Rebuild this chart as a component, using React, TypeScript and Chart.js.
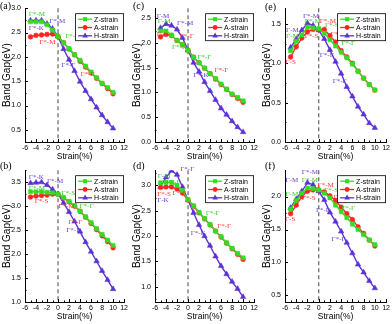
import React, { useEffect, useRef } from "react";
import { Chart, registerables } from "chart.js";
Chart.register(...registerables);

const strains = [-5, -4, -3, -2, -1, 0, 1, 2, 3, 4, 5, 6, 7, 8, 9, 10];
const xTicks = [-6, -4, -2, 0, 2, 4, 6, 8, 10, 12];
const seriesNames = ["Z-strain", "A-strain", "H-strain"];

// (a)
const aZ = [2.72, 2.72, 2.72, 2.66, 2.55, 2.42, 2.29, 2.17, 2.05, 1.93, 1.81, 1.69, 1.57, 1.46, 1.37, 1.27];
const aA = [2.41, 2.44, 2.45, 2.46, 2.47, 2.42, 2.29, 2.16, 2.04, 1.91, 1.79, 1.67, 1.56, 1.45, 1.35, 1.24];
const aH = [2.75, 2.75, 2.75, 2.68, 2.58, 2.42, 2.16, 1.94, 1.71, 1.49, 1.30, 1.13, 0.96, 0.80, 0.66, 0.53];
const aYTicks = [0.5, 1.0, 1.5, 2.0, 2.5, 3.0];
// (b)
const bZ = [3.30, 3.30, 3.30, 3.29, 3.28, 3.25, 3.18, 3.10, 3.01, 2.90, 2.78, 2.66, 2.53, 2.41, 2.29, 2.18];
const bA = [3.19, 3.21, 3.22, 3.23, 3.25, 3.25, 3.17, 3.09, 3.00, 2.89, 2.77, 2.64, 2.51, 2.38, 2.26, 2.13];
const bH = [3.48, 3.49, 3.50, 3.44, 3.35, 3.25, 3.07, 2.88, 2.68, 2.47, 2.25, 2.05, 1.85, 1.65, 1.46, 1.27];
const bYTicks = [1.0, 1.5, 2.0, 2.5, 3.0, 3.5];
// (c)
const cZ = [2.24, 2.24, 2.16, 2.05, 1.97, 1.85, 1.71, 1.60, 1.49, 1.38, 1.28, 1.17, 1.07, 0.97, 0.90, 0.83];
const cA = [2.12, 2.17, 2.15, 2.05, 1.96, 1.85, 1.71, 1.60, 1.49, 1.38, 1.27, 1.16, 1.06, 0.96, 0.88, 0.80];
const cH = [2.30, 2.38, 2.35, 2.27, 2.10, 1.85, 1.60, 1.42, 1.21, 1.03, 0.85, 0.68, 0.55, 0.42, 0.30, 0.20];
const cYTicks = [0.0, 0.5, 1.0, 1.5, 2.0, 2.5];
// (d)
const dZ = [3.05, 3.06, 3.06, 3.00, 2.90, 2.72, 2.60, 2.47, 2.35, 2.23, 2.10, 1.99, 1.87, 1.76, 1.66, 1.57];
const dA = [2.96, 2.97, 2.97, 2.93, 2.85, 2.71, 2.59, 2.46, 2.34, 2.22, 2.10, 1.98, 1.86, 1.75, 1.64, 1.54];
const dH = [2.97, 3.16, 3.29, 3.21, 2.97, 2.71, 2.46, 2.22, 2.00, 1.81, 1.60, 1.41, 1.25, 1.10, 0.96, 0.80];
const dYTicks = [1.0, 1.5, 2.0, 2.5, 3.0];
// (e)
const eZ = [1.16, 1.28, 1.36, 1.46, 1.45, 1.44, 1.38, 1.30, 1.22, 1.14, 1.07, 0.99, 0.90, 0.81, 0.73, 0.66];
const eA = [1.08, 1.21, 1.32, 1.40, 1.43, 1.43, 1.43, 1.35, 1.27, 1.16, 1.08, 1.00, 0.90, 0.81, 0.73, 0.66];
const eH = [1.20, 1.31, 1.42, 1.51, 1.48, 1.42, 1.31, 1.17, 1.02, 0.87, 0.70, 0.58, 0.45, 0.35, 0.24, 0.18];
const eYTicks = [0.0, 0.5, 1.0, 1.5];
// (f)
const fZ = [1.81, 1.94, 2.05, 2.13, 2.12, 2.10, 2.05, 1.98, 1.87, 1.77, 1.68, 1.58, 1.50, 1.42, 1.34, 1.27];
const fA = [1.74, 1.87, 2.00, 2.08, 2.10, 2.10, 2.07, 2.01, 1.94, 1.84, 1.74, 1.65, 1.54, 1.44, 1.34, 1.25];
const fH = [1.83, 1.96, 2.08, 2.21, 2.18, 2.08, 1.95, 1.76, 1.62, 1.47, 1.30, 1.14, 0.97, 0.85, 0.72, 0.61];
const fYTicks = [0.5, 1.0, 1.5, 2.0];

// band-edge annotations: [text, strain, gap, series]
const aAnn = [
  ["Γ*-M", -5.3, 2.88, "Z"], ["Γ*-K", -5.3, 2.59, "H"], ["Γ*-M", -1.6, 2.74, "H"],
  ["Γ*-M", -3.4, 2.31, "A"], ["Γ*-Γ", 1.3, 2.43, "Z"], ["Γ*-Γ", 0.6, 1.82, "H"], ["Γ*-Γ", 4.1, 1.65, "A"],
];
const bAnn = [
  ["Γ*-K", -5.3, 3.61, "H"], ["Γ*-M", -2.0, 3.53, "H"], ["Γ*-M", -5.3, 3.37, "Z"],
  ["Γ*-S", -4.25, 3.11, "A"], ["Γ*-S", 0.6, 3.27, "Z"], ["Γ*-M", 0.1, 3.0, "A"],
  ["Γ*-Γ", 3.9, 3.0, "Z"], ["Γ*-Γ", 1.9, 2.67, "A"], ["Γ*-Γ", 1.5, 2.5, "H"],
];
const cAnn = [
  ["Γ-M", -5.7, 2.54, "H"], ["Γ-M", -5.5, 2.44, "Z"], ["Γ*-M", -2.0, 2.40, "H"],
  ["Γ-S", -5.7, 2.18, "A"], ["Γ*-Γ", -1.5, 2.14, "A"], ["Γ*-Γ", -2.9, 1.92, "Z"],
  ["Γ*-Γ", 1.7, 1.71, "Z"], ["Γ*-Γ", 4.8, 1.44, "A"], ["Γ*-K", 1.0, 1.35, "H"],
];
const dAnn = [
  ["Γ-M", -5.5, 3.19, "Z"], ["Γ*-Γ", -3.9, 3.06, "Z"], ["Γ*-Γ", -1.4, 3.32, "H"],
  ["Γ*-S", -5.6, 2.83, "A"], ["Γ*-S", -2.8, 2.85, "A"], ["Γ-K", -5.6, 2.70, "H"],
  ["Γ*-Γ", 3.2, 2.45, "Z"], ["Γ*-Γ", 5.3, 2.19, "A"], ["Γ*-Γ", 0.5, 2.05, "H"],
];
const eAnn = [
  ["Γ*-M", -2.8, 1.60, "H"], ["Γ-M", -5.8, 1.42, "H"], ["Γ*-M", -2.5, 1.53, "Z"],
  ["Γ*-M", 0.2, 1.54, "A"], ["Γ*-S", 1.1, 1.48, "Z"], ["Γ-M", -5.8, 1.34, "Z"],
  ["Γ*-S", -2.5, 1.34, "A"], ["Γ*-Γ", 2.1, 1.37, "A"], ["Γ*-Γ", 4.0, 1.26, "Z"],
  ["Γ-S", -5.9, 1.01, "A"], ["Γ*-Γ", 0.2, 1.10, "H"], ["Γ*-Γ", 2.5, 0.77, "H"],
];
const fAnn = [
  ["Γ*-M", -3.0, 2.37, "H"], ["Γ-M", -5.9, 2.25, "H"], ["Γ*-M", -3.0, 2.25, "Z"],
  ["Γ*-M", -0.2, 2.18, "A"], ["Γ*-S", 1.0, 2.09, "Z"], ["Γ-M", -5.9, 2.03, "Z"],
  ["Γ*-S", -3.0, 1.97, "A"], ["Γ*-Γ", 2.6, 1.99, "A"], ["Γ*-Γ", 4.0, 1.83, "Z"],
  ["Γ*-Γ", -0.5, 1.79, "H"], ["Γ-S", -6.0, 1.65, "A"], ["Γ*-Γ", 2.3, 1.35, "H"],
];

const COLORS: any = { Z: "#33dd22", A: "#ff2424", H: "#5a32d6" };
const TEXT_COLORS: any = { Z: "#33cc22", A: "#ff3030", H: "#6a3ad8" };
const STYLES: any = { Z: "rect", A: "circle", H: "triangle" };
const RADII: any = { Z: 2.9, A: 2.4, H: 3.2 };
const SANS = "'Liberation Sans', Arial, sans-serif";
const SERIF = "'Liberation Serif', 'Times New Roman', serif";

const panels = [
  { label: "(a)", Z: aZ, A: aA, H: aH, yMin: 0.25, yMax: 3.0, yTicks: aYTicks, ann: aAnn,
    left: 0, top: 0, w: 130, h: 162, padTop: 5, padRight: 2, xh: 20, xtPad: 0, lx: 0, ly: 6 },
  { label: "(b)", Z: bZ, A: bA, H: bH, yMin: 1.0, yMax: 3.75, yTicks: bYTicks, ann: bAnn,
    left: 0, top: 162, w: 130, h: 162, padTop: 4, padRight: 2, xh: 22, xtPad: 2, lx: 0, ly: 4 },
  { label: "(c)", Z: cZ, A: cA, H: cH, yMin: 0.0, yMax: 2.7, yTicks: cYTicks, ann: cAnn,
    left: 130, top: 0, w: 130, h: 162, padTop: 5, padRight: 2, xh: 20, xtPad: 0, lx: 3, ly: 6 },
  { label: "(d)", Z: dZ, A: dA, H: dH, yMin: 0.7, yMax: 3.3, yTicks: dYTicks, ann: dAnn,
    left: 130, top: 162, w: 130, h: 162, padTop: 4, padRight: 2, xh: 22, xtPad: 2, lx: 3, ly: 4 },
  { label: "(e)", Z: eZ, A: eA, H: eH, yMin: 0.0, yMax: 1.7, yTicks: eYTicks, ann: eAnn,
    left: 260, top: 0, w: 132, h: 162, padTop: 5, padRight: 5, xh: 20, xtPad: 0, lx: 5, ly: 7 },
  { label: "(f)", Z: fZ, A: fA, H: fH, yMin: 0.4, yMax: 2.4, yTicks: fYTicks, ann: fAnn,
    left: 260, top: 162, w: 132, h: 162, padTop: 4, padRight: 5, xh: 22, xtPad: 2, lx: 5, ly: 4 },
];

function drawMarker(ctx: CanvasRenderingContext2D, style: string, x: number, y: number, r: number, color: string) {
  ctx.save();
  ctx.fillStyle = color;
  ctx.beginPath();
  if (style === "rect") {
    const s = Math.SQRT1_2 * r;
    ctx.rect(x - s, y - s, 2 * s, 2 * s);
  } else if (style === "circle") {
    ctx.arc(x, y, r, 0, Math.PI * 2);
  } else {
    ctx.moveTo(x, y - r);
    ctx.lineTo(x + r * 0.866, y + r * 0.5);
    ctx.lineTo(x - r * 0.866, y + r * 0.5);
    ctx.closePath();
  }
  ctx.fill();
  ctx.restore();
}

function makeDecor(p: any) {
  return {
    id: "decor",
    beforeDatasetsDraw(chart: any) {
      const { ctx, chartArea, scales } = chart;
      const x0 = scales.x.getPixelForValue(0);
      ctx.save();
      ctx.strokeStyle = "#707070";
      ctx.lineWidth = 1.3;
      ctx.setLineDash([4, 3]);
      ctx.beginPath();
      ctx.moveTo(x0, chartArea.top);
      ctx.lineTo(x0, chartArea.bottom);
      ctx.stroke();
      ctx.restore();
    },
    afterDraw(chart: any) {
      const { ctx, chartArea, scales } = chart;
      const xs = scales.x, ys = scales.y;
      ctx.save();
      // inward ticks
      ctx.strokeStyle = "#000";
      ctx.lineWidth = 1;
      ctx.beginPath();
      for (let v = -6; v <= 12; v += 1) {
        const px = Math.round(xs.getPixelForValue(v)) + 0.5;
        const len = v % 2 === 0 ? 3 : 1.5;
        ctx.moveTo(px, chartArea.bottom);
        ctx.lineTo(px, chartArea.bottom - len);
      }
      const step = (p.yTicks[1] - p.yTicks[0]) / 2;
      const start = Math.ceil(p.yMin / step - 1e-6) * step;
      for (let v = start; v <= p.yMax + 1e-6; v += step) {
        const py = Math.round(ys.getPixelForValue(v)) + 0.5;
        const major = p.yTicks.some((t: number) => Math.abs(t - v) < 1e-6);
        ctx.moveTo(chartArea.left, py);
        ctx.lineTo(chartArea.left + (major ? 3 : 1.5), py);
      }
      ctx.stroke();

      // annotations
      ctx.font = `7px ${SERIF}`;
      ctx.textAlign = "left";
      ctx.textBaseline = "middle";
      for (const [t, x, y, k] of p.ann) {
        ctx.fillStyle = TEXT_COLORS[k];
        ctx.fillText(t, xs.getPixelForValue(x), ys.getPixelForValue(y));
      }

      // legend box
      const bw = 48, bh = 27;
      const bx = chartArea.right - 1 - bw;
      const by = chartArea.top + 5;
      ctx.fillStyle = "#fff";
      ctx.fillRect(bx, by, bw, bh);
      ctx.strokeStyle = "#000";
      ctx.lineWidth = 0.8;
      ctx.strokeRect(bx + 0.5, by + 0.5, bw, bh);
      ctx.font = `7px ${SANS}`;
      ctx.textBaseline = "middle";
      ["Z", "A", "H"].forEach((k, i) => {
        const ry = by + 6 + i * 8.3;
        ctx.strokeStyle = COLORS[k];
        ctx.lineWidth = 1.3;
        ctx.beginPath();
        ctx.moveTo(bx + 3, ry);
        ctx.lineTo(bx + 17, ry);
        ctx.stroke();
        drawMarker(ctx, STYLES[k], bx + 10, ry, RADII[k], COLORS[k]);
        ctx.fillStyle = "#000";
        ctx.fillText(seriesNames[i], bx + 19, ry + 0.5);
      });

      // panel label
      ctx.font = `10px ${SERIF}`;
      ctx.fillStyle = "#000";
      ctx.textBaseline = "middle";
      ctx.fillText(p.label, p.lx, p.ly);
      ctx.restore();
    },
  };
}

function Panel({ p }: { p: any }) {
  const ref = useRef<HTMLCanvasElement>(null);
  useEffect(() => {
    const canvas = ref.current!;
    const datasets = ["Z", "A", "H"].map((k, i) => ({
      label: seriesNames[i],
      data: strains.map((x, j) => ({ x, y: p[k][j] })),
      borderColor: COLORS[k],
      backgroundColor: COLORS[k],
      pointBackgroundColor: COLORS[k],
      pointBorderColor: COLORS[k],
      pointBorderWidth: 0.5,
      pointStyle: STYLES[k],
      pointRadius: RADII[k],
      borderWidth: 1.4,
      tension: 0,
    }));
    const chart = new Chart(canvas, {
      type: "line",
      data: { datasets },
      options: {
        animation: false,
        responsive: false,
        devicePixelRatio: 1,
        layout: { padding: { top: p.padTop, right: p.padRight, left: 0, bottom: 0 } },
        plugins: { legend: { display: false }, tooltip: { enabled: false } },
        scales: {
          x: {
            type: "linear",
            min: -6,
            max: 12,
            afterBuildTicks: (s: any) => { s.ticks = xTicks.map((v) => ({ value: v })); },
            afterFit: (s: any) => { s.height = p.xh; },
            grid: { display: false, drawTicks: false },
            border: { display: true, color: "#000", width: 1 },
            ticks: { font: { family: SANS, size: 7 }, color: "#000", padding: 2, maxRotation: 0, autoSkip: false, callback: (v: any) => String(v) },
            title: { display: true, text: "Strain(%)", font: { family: SANS, size: 8.5 }, color: "#000", padding: { top: 0, bottom: p.xtPad } },
          },
          y: {
            type: "linear",
            min: p.yMin,
            max: p.yMax,
            afterBuildTicks: (s: any) => { s.ticks = p.yTicks.map((v: number) => ({ value: v })); },
            afterFit: (s: any) => { s.width = 25; },
            grid: { display: false, drawTicks: false },
            border: { display: true, color: "#000", width: 1 },
            ticks: { font: { family: SANS, size: 7 }, color: "#000", padding: 4, autoSkip: false, callback: (v: any) => Number(v).toFixed(1) },
            title: { display: true, text: "Band Gap(eV)", font: { family: SANS, size: 10 }, color: "#000", padding: { top: 1.5, bottom: 0 } },
          },
        },
      } as any,
      plugins: [makeDecor(p)],
    });
    return () => chart.destroy();
  }, []);
  return (
    <canvas
      ref={ref}
      width={p.w}
      height={p.h}
      style={{ position: "absolute", left: p.left, top: p.top, width: p.w, height: p.h }}
    />
  );
}

export default function App() {
  return (
    <div style={{ position: "absolute", left: 0, top: 0, width: 392, height: 324, background: "#fff", overflow: "hidden" }}>
      {panels.map((p) => (
        <Panel key={p.label} p={p} />
      ))}
    </div>
  );
}
